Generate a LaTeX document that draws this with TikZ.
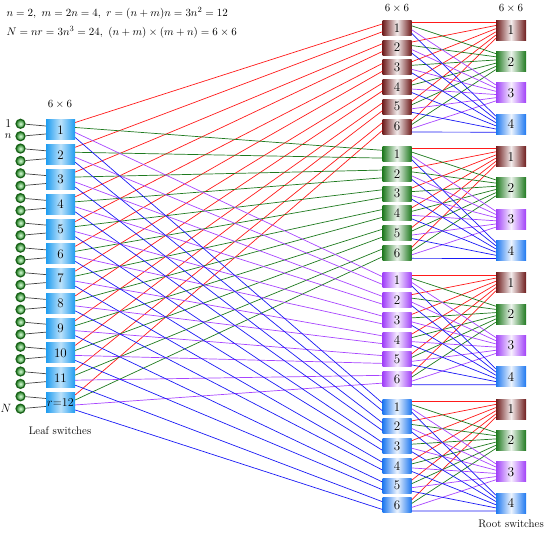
\documentclass[tikz,border=0pt]{standalone}
\usepackage{amsmath}
\usepackage{tikz}
\usetikzlibrary{positioning}
\usepackage{xcolor}

\definecolor{swmaroon}{HTML}{6E1C1C}
\definecolor{swgreen}{HTML}{1F7A1F}
\definecolor{swpurple}{HTML}{A040F8}
\definecolor{swblue}{HTML}{1E78F0}
\definecolor{swleaf}{HTML}{1E9CF0}
\definecolor{lnred}{HTML}{FF1A1A}
\definecolor{lngreen}{HTML}{1E7A1E}
\definecolor{lnpurple}{HTML}{A845FF}
\definecolor{lnblue}{HTML}{1A1AF5}

\begin{document}
\begin{tikzpicture}[x=1pt,y=-1pt,font=\fontsize{11}{13}\selectfont,
    leafsw/.style={minimum width=29pt,minimum height=20pt,inner sep=0pt,
        left color=swleaf,right color=swleaf,middle color=swleaf!30!white,
        font=\fontsize{13}{15}\selectfont},
    midsw/.style={minimum width=29pt,minimum height=15pt,inner sep=0pt,
        left color=#1,right color=#1,middle color=#1!8!white,
        font=\fontsize{13}{15}\selectfont},
    rootsw/.style={minimum width=30pt,minimum height=20pt,inner sep=0pt,
        left color=#1,right color=#1,middle color=#1!8!white,
        font=\fontsize{13.5}{15}\selectfont},
    hostdot/.style={circle,minimum size=9pt,inner sep=0pt,draw=swgreen!80!black,
        line width=1.2pt,inner color=green!15!white,outer color=swgreen},
    hostln/.style={draw=black!75,line width=0.7pt},
    link/.style={line width=0.7pt,draw=#1}]
    \useasboundingbox (0,0) rectangle (550,534);

    % formulas
    \node[anchor=west] (f1) at (3,13) {$n=2,\ m=2n=4,\ r=(n+m)n=3n^2=12$};
    \node[anchor=west] (f2) at (3,32) {$N=nr=3n^3=24,\ (n+m)\times(m+n)=6\times6$};

    % leaf switches and hosts
    \node (t1) at (60,104) {$6\times6$};
    \foreach \i in {1,...,12} {
        \pgfmathsetmacro\yl{130+(\i-1)*24.77}
        \pgfmathsetmacro\ya{\yl-6.2}
        \pgfmathsetmacro\yb{\yl+6.2}
        \node[leafsw] (L-\i) at (60.5,\yl) {\ifnum\i=12 $r{=}12$\else\i\fi};
        \node[hostdot] (h-\i-a) at (20.5,\ya) {};
        \node[hostdot] (h-\i-b) at (20.5,\yb) {};
        \draw[hostln] (h-\i-a) -- ([yshift=4pt]L-\i.west);
        \draw[hostln] (h-\i-b) -- ([yshift=-4pt]L-\i.west);
    }
    \node[left=0.5pt of h-1-a,font=\fontsize{12}{14}\selectfont] (n1) {1};
    \node[left=0.5pt of h-1-b] (nn) {$n$};
    \node[left=0.5pt of h-12-b,font=\fontsize{12}{14}\selectfont] (nN) {$N$};
    \node (leaf) at (60,431) {Leaf switches};

    % middle switches
    \node (t2) at (397,8) {$6\times6$};
    \foreach \g/\col in {1/swmaroon,2/swgreen,3/swpurple,4/swblue} {
        \foreach \k in {1,...,6} {
            \pgfmathsetmacro\ym{27.8+(\g-1)*126.3+(\k-1)*19.75}
            \node[midsw=\col] (M-\g-\k) at (397,\ym) {\k};
        }
    }

    % root switches
    \node (t3) at (511,8) {$6\times6$};
    \foreach \g in {1,...,4} {
        \foreach \j/\col in {1/swmaroon,2/swgreen,3/swpurple,4/swblue} {
            \pgfmathsetmacro\yr{30.3+(\g-1)*126.3+(\j-1)*31.3}
            \node[rootsw=\col] (R-\g-\j) at (511,\yr) {\j};
        }
    }
    \node (root) at (511,524) {Root switches};

    % leaf -> middle
    \foreach \g/\c/\s in {1/lnred/7.5,2/lngreen/2.5,3/lnpurple/-2.5,4/lnblue/-7.5} {
        \foreach \i in {1,...,12} {
            \pgfmathtruncatemacro\k{ceil(\i/2)}
            \pgfmathsetmacro\p{mod(\i,2)==1 ? 3.8 : -4}
            \draw[link=\c] ([yshift=\s pt]L-\i.east) -- ([yshift=\p pt]M-\g-\k.west);
        }
    }

    % middle -> root
    \foreach \g in {1,...,4} {
        \foreach \j/\c/\s in {1/lnred/5.5,2/lngreen/2,3/lnpurple/-2,4/lnblue/-5.5} {
            \foreach \k in {1,...,6} {
                \pgfmathsetmacro\q{8-(\k-1)*3.2}
                \draw[link=\c] ([yshift=\s pt]M-\g-\k.east) -- ([yshift=\q pt]R-\g-\j.west);
            }
        }
    }
\end{tikzpicture}
\end{document}
